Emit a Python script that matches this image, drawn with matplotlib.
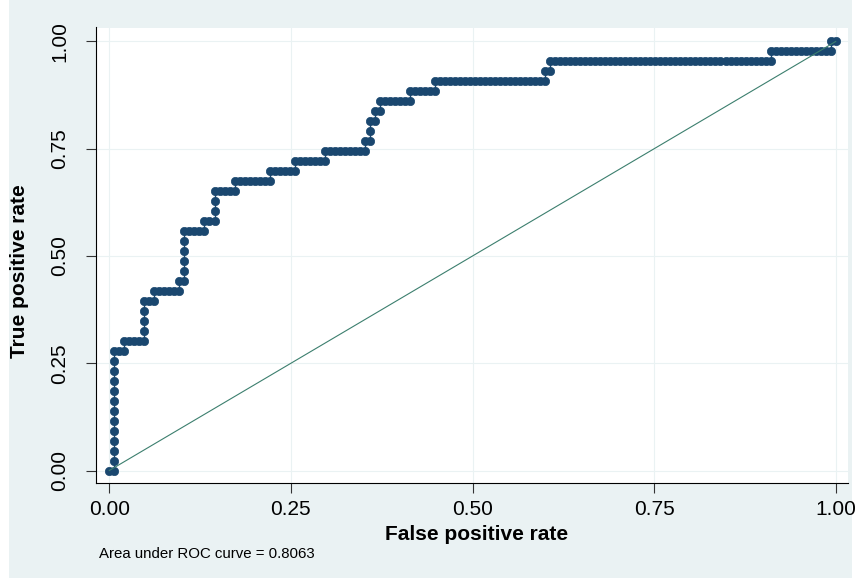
import matplotlib
matplotlib.use("Agg")
import matplotlib.pyplot as plt
from matplotlib.patches import Rectangle

# ---- data ----
n_pos = 43          # positive cases
n_neg = 145         # negative cases
# one row per true-positive count: the range of false-positive counts covered
tp_rows = list(range(44))
fp_first = [0, 1, 1, 1, 1, 1, 1, 1, 1, 1, 1, 1, 1, 3, 7, 7, 7, 7, 9, 14,
            15, 15, 15, 15, 15, 19, 21, 21, 21, 25, 32, 37, 43, 51, 52, 52,
            53, 54, 60, 65, 87, 88, 132, 144]
fp_last = [1, 1, 1, 1, 1, 1, 1, 1, 1, 1, 1, 1, 3, 7, 7, 7, 7, 9, 14, 15,
           15, 15, 15, 15, 19, 21, 21, 21, 25, 32, 37, 43, 51, 52, 52, 53,
           54, 60, 65, 87, 88, 132, 144, 145]
ref_line = [0.0, 1.0]
auc_value = 0.8063
tick_vals = [0.0, 0.25, 0.5, 0.75, 1.0]
tick_labels = ["0.00", "0.25", "0.50", "0.75", "1.00"]

# ROC points: one per cutoff
fpr, tpr = [], []
for k, a, b in zip(tp_rows, fp_first, fp_last):
    for f in range(a, b + 1):
        fpr.append(f / n_neg)
        tpr.append(k / n_pos)

# ---- styling ----
plt.rcParams['font.family'] = ['Liberation Sans', 'DejaVu Sans']
W, H = 858, 579
fig = plt.figure(figsize=(W / 100, H / 100), dpi=100, facecolor='white')
bg = Rectangle((9 / W, 1 - 578 / H), (852 - 9) / W, 578 / H,
               transform=fig.transFigure, facecolor='#eaf2f3',
               edgecolor='none', zorder=-10)
fig.patches.append(bg)

left, right, top, bottom = 96, 848, 27.5, 483
ax = fig.add_axes([left / W, 1 - bottom / H, (right - left) / W, (bottom - top) / H])
ax.set_facecolor('white')

navy = '#1a476f'
ax.plot(fpr, tpr, '-', color=navy, lw=1.0, zorder=3)
ax.plot(fpr, tpr, 'o', color=navy, ms=6.0, mec=navy, mew=0.5, zorder=4)
ax.plot(ref_line, ref_line, color='#3c7f6e', lw=0.8, zorder=5)

ax.set_xlim(-0.0183, 1.0169)
ax.set_ylim(-0.0291, 1.0326)
ax.set_xticks(tick_vals)
ax.set_xticklabels(tick_labels)
ax.set_yticks(tick_vals)
ax.set_yticklabels(tick_labels, rotation=90, va='center')
ax.grid(True, color='#eaf2f3', lw=0.8, zorder=0)
ax.set_axisbelow(True)

for s in ['top', 'right']:
    ax.spines[s].set_visible(False)
for s in ['left', 'bottom']:
    ax.spines[s].set_color('black')
    ax.spines[s].set_linewidth(0.8)

ax.tick_params(axis='x', length=7, width=0.8, color='#333333', pad=5,
               labelsize=15, labelcolor='black')
ax.tick_params(axis='y', length=7, width=0.8, color='#333333', pad=12,
               labelsize=15, labelcolor='black')

fig.text(20 / W, 1 - 271 / H, 'True positive rate', rotation=90,
         ha='center', va='center', fontsize=15, fontweight='bold')
fig.text(477 / W, 1 - 535 / H, 'False positive rate',
         ha='center', va='center', fontsize=15, fontweight='bold')
fig.text(99 / W, 1 - 558 / H, f'Area under ROC curve = {auc_value:.4f}',
         ha='left', va='baseline', fontsize=10.8)

fig.savefig('out.png', dpi=100, facecolor='white')
